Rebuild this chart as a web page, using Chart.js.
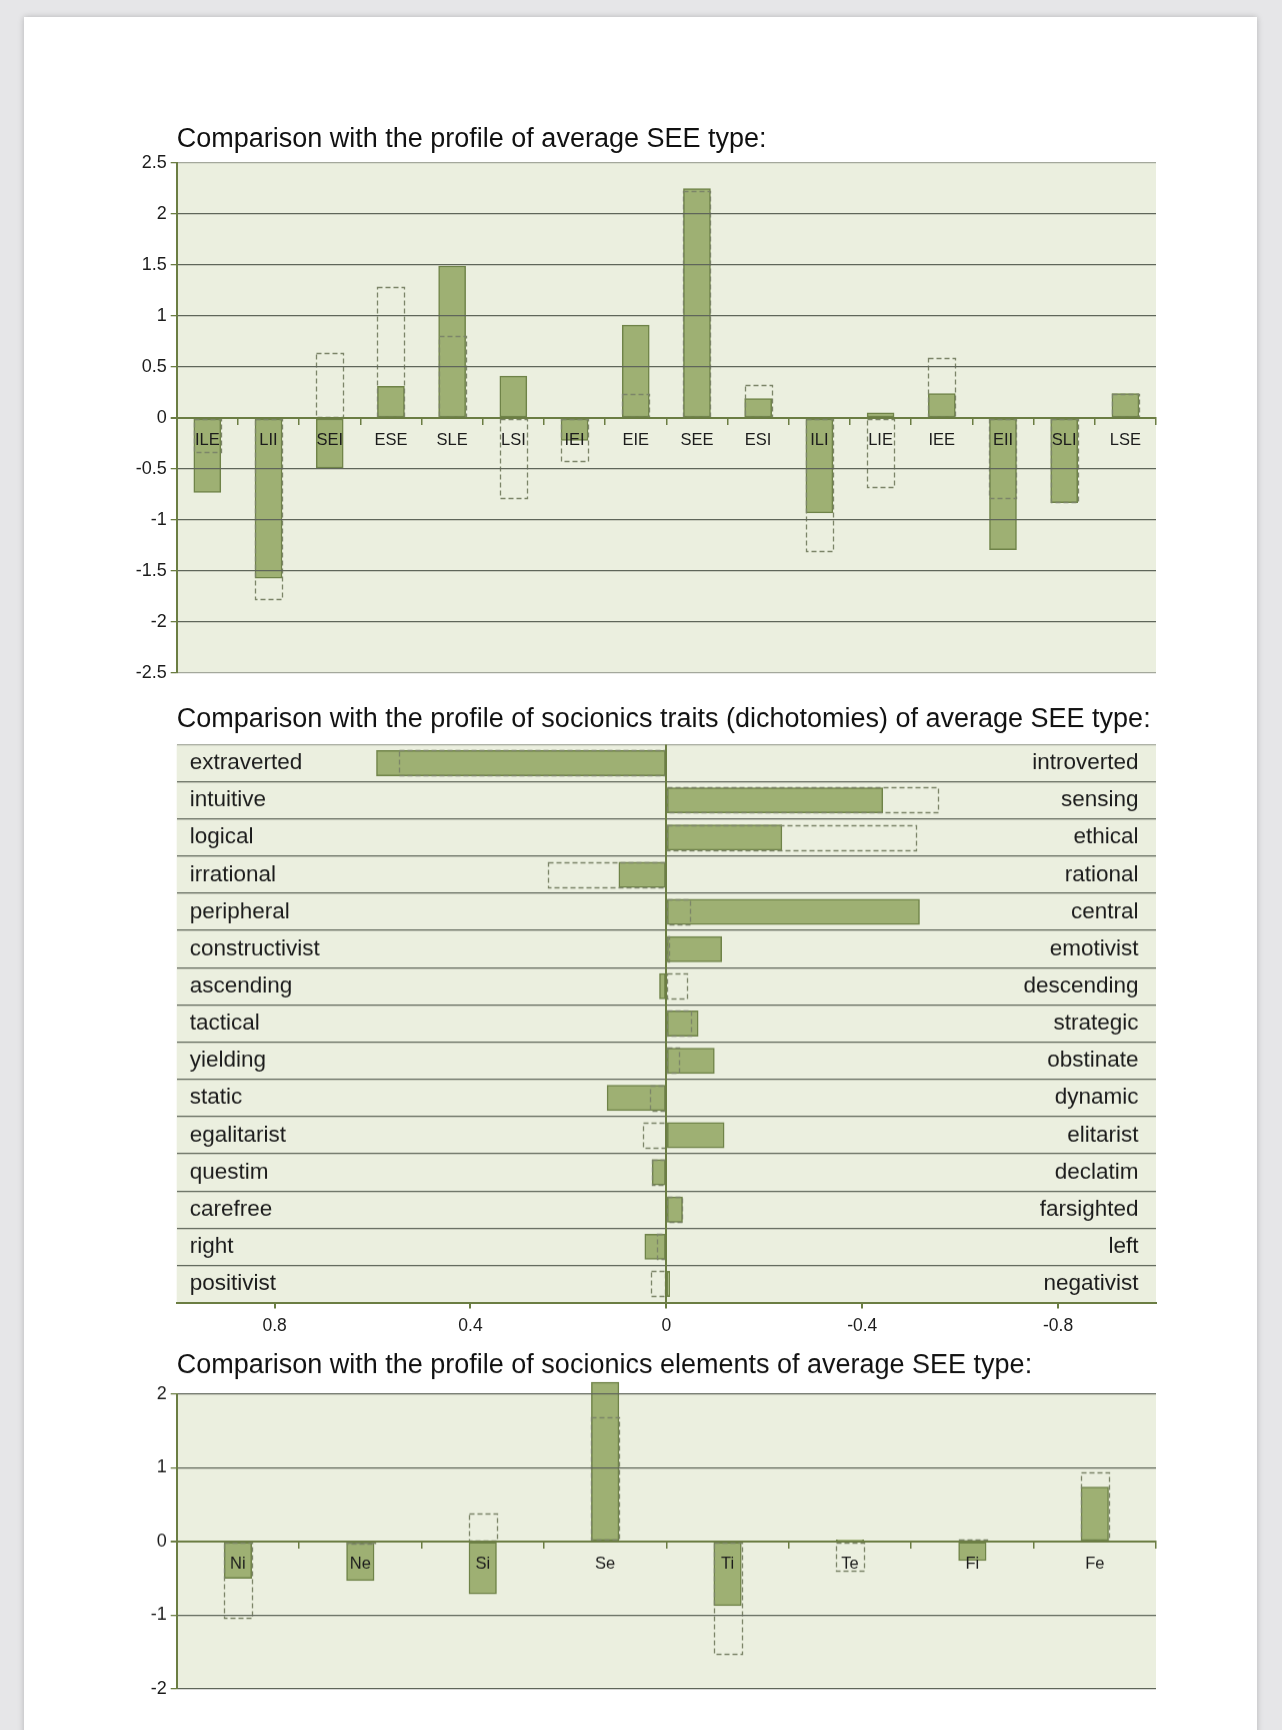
<!DOCTYPE html>
<html>
<head>
<meta charset="utf-8">
<script src="https://cdn.jsdelivr.net/npm/chart.js@4.4.1/dist/chart.umd.min.js"></script>
<style>
  html, body { margin: 0; padding: 0; }
  body { width: 1282px; height: 1730px; background: #e6e6e8; position: relative; overflow: hidden; }
  #card { position: absolute; left: 24px; top: 17px; width: 1233px; height: 1730px; background: #fff; box-shadow: 0 0 6px rgba(0,0,0,0.22); }
  .box { position: absolute; left: 0; width: 1282px; }
</style>
</head>
<body>
<div id="card"></div>
<div class="box" style="top:111.3px; height:577px;"><canvas id="types"></canvas></div>
<div class="box" style="top:692.1px; height:649.6px;"><canvas id="traits"></canvas></div>
<div class="box" style="top:1337.8px; height:364.9px;"><canvas id="elements"></canvas></div>
<script>
// socionics types
var types = ['ILE', 'LII', 'SEI', 'ESE', 'SLE', 'LSI', 'IEI', 'EIE', 'SEE', 'ESI', 'ILI', 'LIE', 'IEE', 'EII', 'SLI', 'LSE'];
var typeScore = [-0.73, -1.57, -0.49, 0.31, 1.49, 0.41, -0.22, 0.91, 2.25, 0.19, -0.93, 0.05, 0.24, -1.29, -0.83, 0.24];
var typeAverage = [-0.33, -1.77, 0.64, 1.28, 0.80, -0.78, -0.42, 0.24, 2.23, 0.32, -1.30, -0.68, 0.59, -0.78, -0.82, 0.235];
var typeTicks = [2.5, 2, 1.5, 1, 0.5, 0, -0.5, -1, -1.5, -2, -2.5];

// dichotomies (positive = left pole)
var traitLeft = ['extraverted', 'intuitive', 'logical', 'irrational', 'peripheral', 'constructivist', 'ascending', 'tactical', 'yielding', 'static', 'egalitarist', 'questim', 'carefree', 'right', 'positivist'];
var traitRight = ['introverted', 'sensing', 'ethical', 'rational', 'central', 'emotivist', 'descending', 'strategic', 'obstinate', 'dynamic', 'elitarist', 'declatim', 'farsighted', 'left', 'negativist'];
var traitScore = [0.592, -0.442, -0.236, 0.097, -0.517, -0.113, 0.014, -0.065, -0.098, 0.121, -0.118, 0.029, -0.033, 0.044, -0.007];
var traitAverage = [0.545, -0.555, -0.51, 0.241, -0.05, -0.006, -0.043, -0.051, -0.026, 0.033, 0.048, 0.029, -0.033, 0.019, 0.031];
var traitTicks = [0.8, 0.4, 0, -0.4, -0.8];

// elements
var elements = ['Ni', 'Ne', 'Si', 'Se', 'Ti', 'Te', 'Fi', 'Fe'];
var elementScore = [-0.5, -0.53, -0.71, 2.16, -0.87, 0.02, -0.26, 0.74];
var elementAverage = [-1.04, -0.03, 0.38, 1.68, -1.53, -0.4, 0.03, 0.94];
var elementTicks = [2, 1, 0, -1, -2];

var FONT = '"Liberation Sans", Arial, Helvetica, sans-serif';
var TEXT = '#1c1c1c';
var BAR_FILL = '#9eb073';
var BAR_EDGE = '#6f8348';
var DASH = '#7c8569';
var PLOT_BG = '#ebefdf';
var AXIS = '#6b7d43';
var GRID = '#5f665a';
var EDGE_GRID = '#a4a89c';

// fills the plot area
var plotBackground = {
  id: 'plotBackground',
  beforeDraw: function (chart) {
    var a = chart.chartArea, ctx = chart.ctx;
    ctx.save();
    ctx.fillStyle = PLOT_BG;
    ctx.fillRect(a.left, a.top, a.right - a.left, a.bottom - a.top);
    ctx.restore();
  }
};

// bar borders can't be dashed, so stroke the outlines of the "average" bars
var dashedBars = {
  id: 'dashedBars',
  afterDatasetDraw: function (chart, args) {
    var ds = chart.data.datasets[args.index];
    if (!ds.dashed) return;
    var ctx = chart.ctx;
    ctx.save();
    ctx.setLineDash([5, 3]);
    ctx.lineWidth = 1.3;
    ctx.strokeStyle = DASH;
    args.meta.data.forEach(function (bar) {
      var p = bar.getProps(['x', 'y', 'base', 'width', 'height', 'horizontal'], true);
      var l, t, w, h;
      if (p.horizontal) {
        l = Math.min(p.x, p.base); w = Math.abs(p.x - p.base);
        t = p.y - p.height / 2; h = p.height;
      } else {
        l = p.x - p.width / 2; w = p.width;
        t = Math.min(p.y, p.base); h = Math.abs(p.y - p.base);
      }
      ctx.strokeRect(Math.round(l) + 0.5, Math.round(t) + 0.5, Math.round(w), Math.round(h));
    });
    ctx.restore();
  }
};

Chart.register(plotBackground, dashedBars);

function fixedTicks(values) {
  return function (scale) {
    scale.ticks = values.map(function (v) { return { value: v }; });
  };
}
function noPad(scale) {
  scale.paddingTop = 0; scale.paddingBottom = 0;
  scale.paddingLeft = 0; scale.paddingRight = 0;
}
function fixedWidth(w) {
  return function (scale) { scale.width = w; noPad(scale); };
}
function fixedHeight(h) {
  return function (scale) { scale.height = h; noPad(scale); };
}
function title(text, padTop, padBottom) {
  return {
    display: true, text: text, align: 'start', fullSize: false, color: '#111',
    font: { family: FONT, size: 27, weight: 'normal' },
    padding: { top: padTop, bottom: padBottom }
  };
}
function solidSet(values, thick) {
  return { data: values, backgroundColor: BAR_FILL, borderColor: BAR_EDGE, borderWidth: 1.5,
    borderSkipped: false, barThickness: thick, grouped: false, order: 1, clip: false };
}
function dashedSet(values, thick) {
  return { data: values, backgroundColor: 'rgba(0,0,0,0)', borderWidth: 0,
    barThickness: thick, grouped: false, order: 0, clip: false, dashed: true };
}
function valueGrid(edges) {
  return {
    z: 1,
    color: function (c) {
      var v = c.tick.value;
      if (v === 0) return AXIS;
      if (edges.indexOf(v) >= 0) return EDGE_GRID;
      return GRID;
    },
    lineWidth: function (c) { return c.tick.value === 0 ? 2 : 1.3; },
    tickColor: AXIS, tickLength: 6
  };
}
function columnOptions(heading, padTop, padBottom, min, max, ticks, edges) {
  return {
    responsive: true, maintainAspectRatio: false, animation: false,
    layout: { padding: { left: 0, right: 126, top: 0, bottom: 15 } },
    plugins: { legend: { display: false }, tooltip: { enabled: false }, title: title(heading, padTop, padBottom) },
    scales: {
      x: {
        position: { y: 0 }, offset: true,
        grid: { z: 1, offset: true, drawOnChartArea: false, color: AXIS, lineWidth: 1.5, tickLength: 6 },
        border: { z: 1, color: AXIS, width: 2 },
        ticks: { z: 1, color: TEXT, font: { family: FONT, size: 16.5 }, padding: 7, autoSkip: false, maxRotation: 0 },
        afterFit: noPad
      },
      y: {
        min: min, max: max,
        afterBuildTicks: fixedTicks(ticks),
        grid: valueGrid(edges),
        border: { z: 1, color: AXIS, width: 2 },
        ticks: { z: 1, color: TEXT, font: { family: FONT, size: 18 }, padding: 4,
          callback: function (v) { return String(v); } },
        afterFit: fixedWidth(176.7)
      }
    }
  };
}

new Chart(document.getElementById('types'), {
  type: 'bar',
  data: { labels: types, datasets: [solidSet(typeScore, 27), dashedSet(typeAverage, 27)] },
  options: columnOptions('Comparison with the profile of average SEE type:', 12, 7.6, -2.5, 2.5, typeTicks, [2.5, -2.5])
});

new Chart(document.getElementById('traits'), {
  type: 'bar',
  data: { labels: traitLeft, datasets: [solidSet(traitScore, 25.3), dashedSet(traitAverage, 25.3)] },
  options: {
    indexAxis: 'y',
    responsive: true, maintainAspectRatio: false, animation: false,
    layout: { padding: { left: 176.7, right: 126, top: 0, bottom: 0 } },
    plugins: { legend: { display: false }, tooltip: { enabled: false },
      title: title('Comparison with the profile of socionics traits (dichotomies) of average SEE type:', 11, 9) },
    scales: {
      x: {
        min: -1, max: 1, reverse: true, position: 'bottom',
        afterBuildTicks: fixedTicks(traitTicks),
        grid: {
          z: 1,
          color: function (c) { return c.tick.value === 0 ? AXIS : 'rgba(0,0,0,0)'; },
          lineWidth: 2, tickColor: AXIS, tickLength: 6
        },
        border: { z: 1, color: AXIS, width: 2 },
        ticks: { z: 1, color: TEXT, font: { family: FONT, size: 17.5 }, padding: 7,
          callback: function (v) { return String(v); } },
        afterFit: fixedHeight(40)
      },
      y: {
        offset: true,
        grid: {
          offset: true, drawTicks: false,
          color: function (c) {
            if (c.index === 0) return EDGE_GRID;
            if (c.index === traitLeft.length) return 'rgba(0,0,0,0)';
            return GRID;
          },
          lineWidth: 1.3
        },
        border: { display: false },
        ticks: { mirror: true, padding: 13, color: TEXT, font: { family: FONT, size: 22.5 } },
        afterFit: fixedWidth(0)
      },
      y2: {
        type: 'category', labels: traitRight, position: 'right', offset: true,
        grid: { display: false },
        border: { display: false },
        ticks: { mirror: true, padding: -17.5, color: TEXT, font: { family: FONT, size: 22.5 } },
        afterFit: fixedWidth(0)
      }
    }
  }
});

new Chart(document.getElementById('elements'), {
  type: 'bar',
  data: { labels: elements, datasets: [solidSet(elementScore, 27.5), dashedSet(elementAverage, 27.5)] },
  options: columnOptions('Comparison with the profile of socionics elements of average SEE type:', 11, 12.5, -2, 2, elementTicks, [])
});
</script>
</body>
</html>
